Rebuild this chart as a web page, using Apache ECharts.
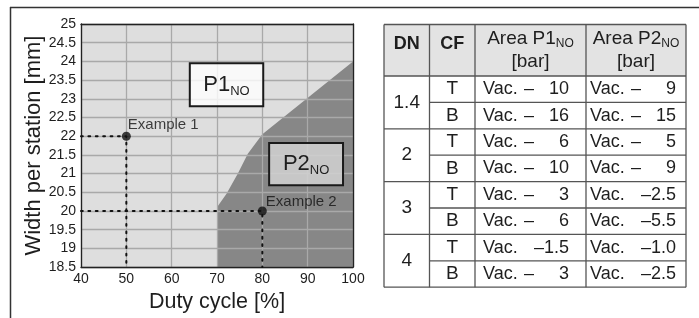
<!DOCTYPE html>
<html>
<head>
<meta charset="utf-8">
<script src="https://cdn.jsdelivr.net/npm/echarts@6/dist/echarts.min.js"></script>
<style>
html, body { margin: 0; padding: 0; background: #fff; }
#chart { width: 699px; height: 318px; }
</style>
</head>
<body>
<div id="chart"></div>
<script>
// P1/P2 分界線 (duty cycle %, width mm)
const boundaryX = [70, 70, 72.1, 74.6, 76.8, 80, 100];
const boundaryY = [18.5, 20.1, 20.46, 21.0, 21.53, 22.05, 24];

// 範例點
const exampleNames = ['Example 1', 'Example 2'];
const exampleX = [50, 80];
const exampleY = [22, 20];

// 表格
const headerTexts = ['DN', 'CF', 'Area P1', 'Area P2'];
const dnList = ['1.4', '2', '3', '4'];
const cfList = ['T', 'B'];
const p1Values = ['10', '16', '6', '10', '3', '6', '1.5', '3'];
const p2Values = ['9', '15', '5', '9', '2.5', '5.5', '1.0', '2.5'];

const FONT = 'Liberation Sans, Arial, sans-serif';
const NARROW = 'Liberation Sans Narrow, Liberation Sans, sans-serif';
const INK = '#1e1e1e';

// 表格用 graphic 畫
const colX = [384, 429.5, 475, 586, 686];
const tableTop = 24.5, headerBottom = 76, rowH = 26.4;
const tableBottom = headerBottom + rowH * 8;
const lineColor = '#555';
const tableEls = [];

tableEls.push({
    type: 'rect',
    shape: { x: colX[0], y: tableTop, width: colX[4] - colX[0], height: headerBottom - tableTop },
    style: { fill: '#e3e3e3' }
});
tableEls.push({ type: 'line', shape: { x1: colX[0], y1: tableTop, x2: colX[4], y2: tableTop }, style: { stroke: lineColor, lineWidth: 1.3 } });
for (let r = 0; r <= 8; r++) {
    const y = headerBottom + r * rowH;
    const x1 = r % 2 === 1 ? colX[1] : colX[0];
    tableEls.push({ type: 'line', shape: { x1: x1, y1: y, x2: colX[4], y2: y }, style: { stroke: lineColor, lineWidth: 1.3 } });
}
colX.forEach(function (x) {
    tableEls.push({ type: 'line', shape: { x1: x, y1: tableTop, x2: x, y2: tableBottom }, style: { stroke: lineColor, lineWidth: 1.3 } });
});

// 表頭
[0, 1].forEach(function (i) {
    tableEls.push({
        type: 'text',
        x: (colX[i] + colX[i + 1]) / 2, y: 44,
        style: { text: headerTexts[i], fontSize: 18, fontWeight: 'bold', fontFamily: FONT, fill: INK, align: 'center', verticalAlign: 'middle' }
    });
});
[2, 3].forEach(function (i) {
    const cx = (colX[i] + colX[i + 1]) / 2;
    tableEls.push({
        type: 'text',
        x: cx, y: 39,
        style: {
            text: '{a|' + headerTexts[i] + '}{b|NO}',
            align: 'center', verticalAlign: 'middle',
            rich: {
                a: { fontSize: 19, fontFamily: FONT, fill: INK, lineHeight: 22 },
                b: { fontSize: 12, fontFamily: FONT, fill: INK, lineHeight: 22, verticalAlign: 'bottom' }
            }
        }
    });
    tableEls.push({
        type: 'text',
        x: cx, y: 62,
        style: { text: '[bar]', fontSize: 19, fontFamily: FONT, fill: INK, align: 'center', verticalAlign: 'middle' }
    });
});

// 數據行
function valueCell(colIdx, pad, value, rowY) {
    const tx = colX[colIdx] + pad;
    const txt = { fontSize: 18, fontFamily: FONT, fill: INK, verticalAlign: 'middle' };
    tableEls.push({ type: 'text', x: tx, y: rowY, style: Object.assign({ text: 'Vac.', align: 'left' }, txt) });
    if (value.indexOf('.') >= 0) {
        tableEls.push({ type: 'text', x: tx + 86, y: rowY, style: Object.assign({ text: '\u2013' + value, align: 'right' }, txt) });
    } else {
        tableEls.push({ type: 'text', x: tx + 41, y: rowY, style: Object.assign({ text: '\u2013', align: 'left' }, txt) });
        tableEls.push({ type: 'text', x: tx + 86, y: rowY, style: Object.assign({ text: value, align: 'right' }, txt) });
    }
}
dnList.forEach(function (dn, g) {
    tableEls.push({
        type: 'text',
        x: (colX[0] + colX[1]) / 2, y: headerBottom + rowH * (2 * g + 1),
        style: { text: dn, fontSize: 19, fontFamily: FONT, fill: INK, align: 'center', verticalAlign: 'middle' }
    });
    cfList.forEach(function (cf, k) {
        const idx = 2 * g + k;
        const rowY = headerBottom + rowH * (idx + 0.5);
        tableEls.push({
            type: 'text',
            x: (colX[1] + colX[2]) / 2, y: rowY,
            style: { text: cf, fontSize: 19, fontFamily: FONT, fill: INK, align: 'center', verticalAlign: 'middle' }
        });
        valueCell(2, 8, p1Values[idx], rowY);
        valueCell(3, 4, p2Values[idx], rowY);
    });
});

// 外框
tableEls.push({ type: 'line', shape: { x1: 10, y1: 7.5, x2: 699, y2: 7.5 }, style: { stroke: '#333', lineWidth: 1.5 } });
tableEls.push({ type: 'line', shape: { x1: 10.5, y1: 7, x2: 10.5, y2: 318 }, style: { stroke: '#333', lineWidth: 1.5 } });

const boxLabel = function (sub) {
    return {
        show: true,
        position: 'inside',
        formatter: '{a|P' + sub + '}{b|NO}',
        rich: {
            a: { fontSize: 22, fontFamily: FONT, color: INK, lineHeight: 26 },
            b: { fontSize: 13, fontFamily: FONT, color: INK, lineHeight: 26, verticalAlign: 'bottom' }
        }
    };
};

const option = {
    animation: false,
    textStyle: { fontFamily: FONT },
    grid: { left: 81, top: 24, width: 272, height: 245, show: true, backgroundColor: '#dedede', borderWidth: 0 },
    xAxis: [
        {
            type: 'value', min: 40, max: 100, interval: 10, z: 3,
            name: 'Duty cycle [%]', nameLocation: 'middle', nameGap: 20,
            nameTextStyle: { fontSize: 21.5, color: INK, fontFamily: FONT },
            axisLine: { lineStyle: { color: '#222', width: 1.3 } },
            axisTick: { show: false },
            axisLabel: { margin: 5, fontSize: 14, color: INK, fontFamily: NARROW },
            splitLine: { lineStyle: { color: '#a9a9a9', width: 1.3 } }
        },
        {
            type: 'value', min: 40, max: 100, position: 'top', z: 3,
            axisLine: { show: true, lineStyle: { color: '#222', width: 1.3 } },
            axisTick: { show: false }, axisLabel: { show: false }, splitLine: { show: false }
        }
    ],
    yAxis: [
        {
            type: 'value', min: 18.5, max: 25, interval: 0.5, z: 3,
            name: 'Width per station [mm]', nameLocation: 'middle', nameGap: 36,
            nameTextStyle: { fontSize: 22, color: INK, fontFamily: FONT },
            axisLine: { show: true, lineStyle: { color: '#222', width: 1.3 } },
            axisTick: { show: false },
            axisLabel: { margin: 5, fontSize: 14, color: INK, fontFamily: NARROW },
            splitLine: { lineStyle: { color: '#a9a9a9', width: 1.3 } }
        },
        {
            type: 'value', min: 18.5, max: 25, position: 'right', z: 3,
            axisLine: { show: true, lineStyle: { color: '#222', width: 1.3 } },
            axisTick: { show: false }, axisLabel: { show: false }, splitLine: { show: false }
        }
    ],
    graphic: tableEls,
    series: [
        {
            name: 'P2 area',
            type: 'line',
            z: 2,
            symbol: 'none',
            data: boundaryX.map(function (x, i) { return [x, boundaryY[i]]; }),
            lineStyle: { width: 0 },
            areaStyle: { color: '#878787', opacity: 1, origin: 'start' }
        },
        {
            name: 'Example 1 guide',
            type: 'line', z: 4, symbol: 'none',
            data: [[40, exampleY[0]], [exampleX[0], exampleY[0]], [exampleX[0], 18.5]],
            lineStyle: { color: '#111', width: 2, type: [1.8, 5.6], cap: 'round' }
        },
        {
            name: 'Example 2 guide',
            type: 'line', z: 4, symbol: 'none',
            data: [[40, exampleY[1]], [exampleX[1], exampleY[1]], [exampleX[1], 18.5]],
            lineStyle: { color: '#111', width: 2, type: [1.8, 5.6], cap: 'round' }
        },
        {
            name: 'Examples',
            type: 'scatter', z: 5,
            symbolSize: 9,
            itemStyle: { color: '#111' },
            data: exampleNames.map(function (n, i) {
                return {
                    name: n,
                    value: [exampleX[i], exampleY[i]],
                    label: { position: i === 0 ? [6, -7] : [8, -5] }
                };
            }),
            label: {
                show: true, formatter: '{b}', fontSize: 15, color: '#111', fontFamily: FONT,
                align: 'left', verticalAlign: 'middle'
            },
            markArea: {
                z: 6,
                silent: true,
                data: [
                    [
                        { coord: [64, 23.95], itemStyle: { color: 'rgba(255,255,255,0.8)', borderColor: '#1a1a1a', borderWidth: 2 }, label: boxLabel('1') },
                        { coord: [80.2, 22.8] }
                    ],
                    [
                        { coord: [81.5, 21.82], itemStyle: { color: 'rgba(210,210,210,0.85)', borderColor: '#1a1a1a', borderWidth: 2 }, label: boxLabel('2') },
                        { coord: [97.8, 20.69] }
                    ]
                ]
            }
        }
    ]
};

var chart = echarts.init(document.getElementById('chart'));
chart.setOption(option);
</script>
</body>
</html>
